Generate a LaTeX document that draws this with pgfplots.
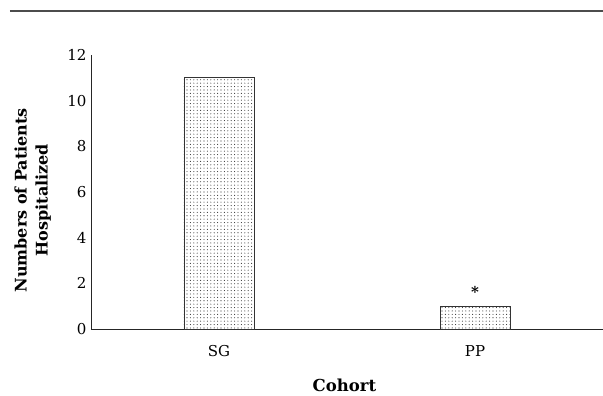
\documentclass[border=0pt]{standalone}
\usepackage{pgfplots}
\pgfplotsset{compat=1.18}
\usepackage{fontspec}
\setmainfont{DejaVu Serif}
\usetikzlibrary{patterns,patterns.meta}
\begin{document}
\begin{tikzpicture}[x=1pt,y=1pt]
\path[use as bounding box] (-91,-67) rectangle (512,329);
\draw[line width=1.5pt, black!70] (-81,318) -- (512,318);
\begin{axis}[
  at={(0,0)}, anchor=south west,
  scale only axis, width=512pt, height=274pt,
  xmin=-0.5, xmax=1.5, ymin=0, ymax=12,
  axis x line=bottom, axis y line=left,
  axis line style={-, black!85, line width=0.8pt},
  xtick={0,1}, xticklabels={SG,PP},
  ytick={0,2,4,6,8,10,12},
  major tick length=0pt,
  tick label style={font=\fontsize{15}{17}\selectfont},
  /pgf/number format/assume math mode=true,
  yticklabel style={xshift=-1pt},
  xticklabel style={yshift=-13pt},
  xlabel={Cohort},
  xlabel style={font=\fontsize{16.5}{19}\selectfont\bfseries, at={(axis description cs:0.495,-0.228)}, anchor=base},
  ylabel={Numbers of Patients\\Hospitalized},
  ylabel style={font=\fontsize{16}{21}\selectfont\bfseries, align=center, at={(axis description cs:-0.114,0.47)}, anchor=center, rotate=0},
  ybar, bar width=70pt, bar shift=0pt,
  clip=false,
]
\addplot[draw=black!80, line width=0.7pt, pattern={Dots[distance=3.4pt, radius=0.55pt]}, pattern color=black!80] coordinates {(0,11) (1,1)};
\addplot[draw=none, fill=none, nodes near coords={\textbf{*}},
  every node near coord/.append style={font=\fontsize{15}{18}\selectfont, inner sep=0pt, anchor=south, yshift=8pt}] coordinates {(1,1)};
\end{axis}
\end{tikzpicture}
\end{document}
